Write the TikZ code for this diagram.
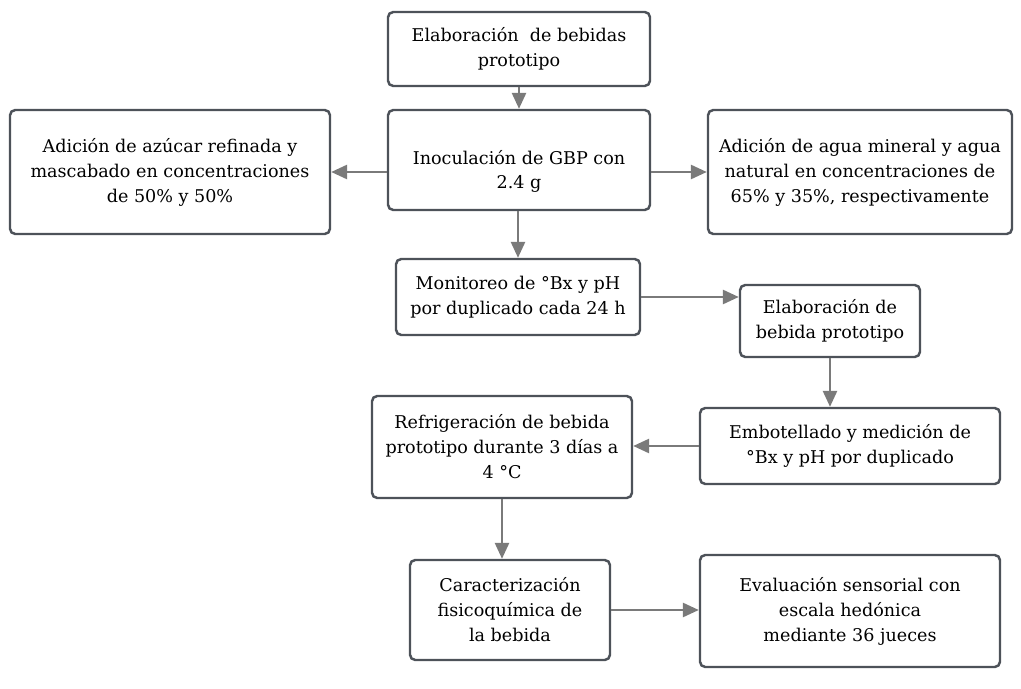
\documentclass[tikz,border=0pt]{standalone}
\usepackage{fontspec}
\setmainfont{DejaVu Serif}
\usetikzlibrary{arrows.meta}

\definecolor{boxline}{HTML}{4D5259}
\definecolor{arrline}{HTML}{7A7A7A}

\tikzset{
	stage/.style={draw=boxline, line width=1.4pt, rounded corners=3pt, align=center,
		font=\fontsize{10}{14.2}\selectfont, inner sep=2pt},
	arr/.style={draw=arrline, line width=1.2pt, -{Triangle[length=9pt, width=8pt]}}
}

\begin{document}
\begin{tikzpicture}[x=0.02cm, y=-0.02cm]
	\useasboundingbox (0,0) rectangle (1021,689);

	% boxes
	\node[stage, minimum width=262*0.02cm, minimum height=74*0.02cm] (top) at (519,49) {Elaboración \ de bebidas\\prototipo};
	\node[stage, minimum width=262*0.02cm, minimum height=100*0.02cm] (inoc) at (519,160) {\rule{0pt}{21pt}Inoculación de GBP con\\2.4 g};
	\node[stage, minimum width=320*0.02cm, minimum height=124*0.02cm] (azucar) at (170,172) {Adición de azúcar refinada y\\mascabado en concentraciones\\de 50\% y 50\%};
	\node[stage, minimum width=304*0.02cm, minimum height=124*0.02cm] (agua) at (860,172) {Adición de agua mineral y agua\\natural en concentraciones de\\65\% y 35\%, respectivamente};
	\node[stage, minimum width=244*0.02cm, minimum height=76*0.02cm] (monit) at (518,297) {Monitoreo de °Bx y pH\\por duplicado cada 24 h};
	\node[stage, minimum width=180*0.02cm, minimum height=72*0.02cm] (elab) at (830,321) {Elaboración de\\bebida prototipo};
	\node[stage, minimum width=300*0.02cm, minimum height=76*0.02cm] (embot) at (850,446) {Embotellado y medición de\\°Bx y pH por duplicado};
	\node[stage, minimum width=260*0.02cm, minimum height=102*0.02cm] (refrig) at (502,447) {Refrigeración de bebida\\prototipo durante 3 días a\\4 °C};
	\node[stage, minimum width=200*0.02cm, minimum height=100*0.02cm] (caract) at (510,610) {Caracterización\\fisicoquímica de\\la bebida};
	\node[stage, minimum width=300*0.02cm, minimum height=112*0.02cm] (eval) at (850,611) {Evaluación sensorial con\\escala hedónica\\mediante 36 jueces};

	% arrows
	\draw[arr] (top) -- (inoc);
	\draw[arr] (inoc.west |- azucar.east) -- (azucar.east);
	\draw[arr] (inoc.east |- agua.west) -- (agua.west);
	\draw[arr] (inoc.south -| monit) -- (monit.north);
	\draw[arr] (monit.east) -- (monit.east -| elab.west);
	\draw[arr] (elab.south) -- (elab.south |- embot.north);
	\draw[arr] (embot.west) -- (embot.west -| refrig.east);
	\draw[arr] (refrig.south) -- (refrig.south |- caract.north);
	\draw[arr] (caract.east) -- (caract.east -| eval.west);
\end{tikzpicture}
\end{document}
